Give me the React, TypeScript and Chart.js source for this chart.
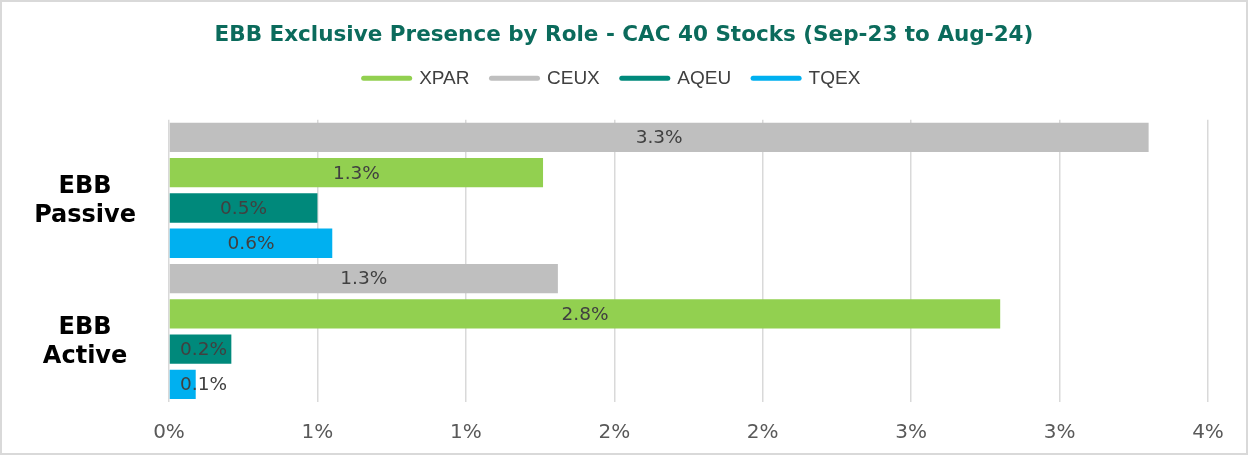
import { useEffect, useRef } from 'react';
import { Chart, registerables } from 'chart.js';

Chart.register(...registerables);

const titleText = 'EBB Exclusive Presence by Role - CAC 40 Stocks (Sep-23 to Aug-24)';
const categories = [['EBB', 'Passive'], ['EBB', 'Active']];
const seriesNames = ['CEUX', 'XPAR', 'AQEU', 'TQEX'];
const ceuxValues = [3.3, 1.31];
const xparValues = [1.26, 2.8];
const aqeuValues = [0.5, 0.21];
const tqexValues = [0.55, 0.09];
const seriesColors = ['#BFBFBF', '#92D050', '#00897B', '#00B0F0'];
const legendOrder = ['XPAR', 'CEUX', 'AQEU', 'TQEX'];
const axisMin = 0;
const axisMax = 3.5;
const axisStep = 0.5;

const seriesValues = [ceuxValues, xparValues, aqeuValues, tqexValues];

const frameBorder = {
  id: 'frameBorder',
  afterDraw(chart: any) {
    const { ctx, width, height } = chart;
    ctx.save();
    ctx.strokeStyle = '#D9D9D9';
    ctx.lineWidth = 2;
    ctx.strokeRect(1, 1, width - 2, height - 2);
    ctx.restore();
  },
};

const legendSpacing = {
  id: 'legendSpacing',
  beforeInit(chart: any) {
    const legend = chart.legend;
    if (!legend) return;
    const fit = legend.fit;
    legend.fit = function () {
      fit.call(this);
      this.height += 18;
    };
  },
  beforeDraw(chart: any) {
    const legend = chart.legend;
    if (!legend) return;
    legend.top -= 4;
    legend.bottom -= 4;
    legend.left -= 12;
    legend.right -= 12;
  },
};

const barLabels = {
  id: 'barLabels',
  afterDatasetsDraw(chart: any) {
    const { ctx, chartArea } = chart;
    ctx.save();
    ctx.font = '18.5px "DejaVu Sans"';
    ctx.fillStyle = '#404040';
    ctx.textAlign = 'center';
    ctx.textBaseline = 'middle';
    chart.data.datasets.forEach((ds: any, di: number) => {
      const meta = chart.getDatasetMeta(di);
      meta.data.forEach((bar: any, i: number) => {
        const v = ds.data[i];
        const text = v.toFixed(1) + '%';
        const w = ctx.measureText(text).width;
        let cx = (bar.base + bar.x) / 2;
        const minX = chartArea.left + 11 + w / 2;
        if (cx < minX) cx = minX;
        ctx.fillText(text, cx, bar.y + 1);
      });
    });
    ctx.restore();
  },
};

export default function App() {
  const ref = useRef<HTMLCanvasElement | null>(null);

  useEffect(() => {
    document.body.style.margin = '0';
    Chart.defaults.font.family = '"DejaVu Sans"';
    const canvas = ref.current;
    if (!canvas) return;
    const chart = new Chart(canvas, {
      type: 'bar',
      data: {
        labels: categories,
        datasets: seriesNames.map((name, i) => ({
          label: name,
          data: seriesValues[i],
          backgroundColor: seriesColors[i],
          borderWidth: 0,
          barPercentage: 0.83,
          categoryPercentage: 1.0,
        })),
      },
      options: {
        indexAxis: 'y',
        responsive: false,
        maintainAspectRatio: false,
        animation: false,
        devicePixelRatio: 1,
        layout: { padding: 0 },
        plugins: {
          title: {
            display: true,
            text: titleText,
            color: '#0B6B5C',
            font: { size: 21.5, weight: 'bold', family: '"DejaVu Sans"' },
            padding: { top: 23, bottom: 2 },
          },
          legend: {
            display: true,
            position: 'top',
            labels: {
              usePointStyle: true,
              pointStyleWidth: 46,
              padding: 22,
              color: '#404040',
              font: { size: 19, family: '"Liberation Sans"' },
              sort: (a: any, b: any) => legendOrder.indexOf(a.text) - legendOrder.indexOf(b.text),
              generateLabels: (ch: any) =>
                ch.data.datasets.map((ds: any, i: number) => ({
                  text: ds.label,
                  fillStyle: seriesColors[i],
                  strokeStyle: seriesColors[i],
                  lineWidth: 5,
                  lineCap: 'round',
                  pointStyle: 'line',
                  hidden: false,
                  datasetIndex: i,
                  fontColor: '#404040',
                })),
            },
          },
          tooltip: { enabled: false },
        },
        scales: {
          x: {
            type: 'linear',
            position: 'bottom',
            min: axisMin,
            max: axisMax,
            ticks: {
              stepSize: axisStep,
              color: '#595959',
              font: { size: 20, family: '"DejaVu Sans"' },
              padding: 19,
              callback: (v: any) => Math.round(Number(v)) + '%',
            },
            grid: { color: '#D9D9D9', lineWidth: 1.5, drawTicks: false },
            border: { display: false },
            afterFit: (s: any) => {
              s.height = 53;
            },
          },
          y: {
            type: 'category',
            position: 'left',
            grid: { display: false, drawTicks: false },
            border: { display: false },
            ticks: {
              color: '#000000',
              font: { size: 24, weight: 'bold', family: '"DejaVu Sans"' },
              crossAlign: 'center',
              padding: 33,
              labelOffset: 11,
            },
            afterFit: (s: any) => {
              s.width = 169;
              s.paddingTop = 0;
              s.paddingBottom = 0;
            },
          },
          yRight: {
            type: 'linear',
            position: 'right',
            display: true,
            grid: { display: false, drawTicks: false },
            border: { display: false },
            ticks: { display: false },
            afterFit: (s: any) => {
              s.width = 40;
            },
          },
        },
      },
      plugins: [legendSpacing, barLabels, frameBorder],
    } as any);
    return () => chart.destroy();
  }, []);

  return (
    <div style={{ position: 'absolute', left: 0, top: 0, width: 1248, height: 455 }}>
      <canvas ref={ref} width={1248} height={455} style={{ display: 'block' }} />
    </div>
  );
}
